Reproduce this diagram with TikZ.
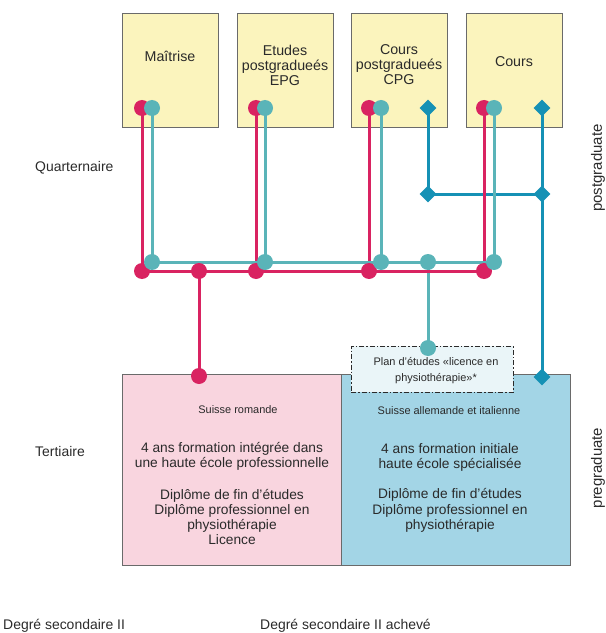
\documentclass[tikz,border=0pt]{standalone}
\usepackage{fontspec}
\setmainfont{Liberation Sans}
\usetikzlibrary{shapes.geometric}
\definecolor{yel}{HTML}{FBF4BD}
\definecolor{frame}{HTML}{6A6A6A}
\definecolor{redl}{HTML}{D92361}
\definecolor{teall}{HTML}{5AB4B8}
\definecolor{bluel}{HTML}{1591B5}
\definecolor{pinkf}{HTML}{F9D5DF}
\definecolor{bluef}{HTML}{A3D5E6}
\definecolor{dashf}{HTML}{EAF5F8}
\definecolor{txt}{HTML}{2A2A2A}
\begin{document}
\begin{tikzpicture}[x=1bp,y=-1bp,
  topbox/.style={draw=frame,line width=0.9bp,fill=yel,minimum width=96bp,minimum height=114bp,inner sep=0},
  lbl/.style={text=txt,align=center,font=\fontsize{14.3}{15}\selectfont,inner sep=0},
  big/.style={text=txt,align=center,font=\fontsize{13.8}{15.2}\selectfont,inner sep=0},
  small/.style={text=txt,align=center,font=\fontsize{11}{12}\selectfont,inner sep=0},
  side/.style={text=txt,font=\fontsize{14}{15}\selectfont,inner sep=0,anchor=west},
  rot/.style={text=txt,font=\fontsize{15}{17}\selectfont,inner sep=0,rotate=90},
  rline/.style={draw=redl,line width=3bp},
  tline/.style={draw=teall,line width=3bp},
  bline/.style={draw=bluel,line width=3bp},
  rdot/.style={circle,fill=redl,minimum size=16bp,inner sep=0},
  tdot/.style={circle,fill=teall,minimum size=16bp,inner sep=0},
  bdia/.style={diamond,fill=bluel,minimum size=17bp,inner sep=0}]
\useasboundingbox (0,0) rectangle (606,633);
% top boxes
\node[topbox] (b1) at (170,70) {};
\node[topbox] (b2) at (285,70) {};
\node[topbox] (b3) at (399,70) {};
\node[topbox] (b4) at (514,70) {};
\node[lbl] (l1) at (170,56) {Maîtrise};
\node[lbl] (l2) at (285,65) {Etudes\\postgradueés\\EPG};
\node[lbl] (l3) at (399,65) {Cours\\postgradueés\\CPG};
\node[lbl] (l4) at (514,62) {Cours};
% bottom boxes
\node[draw=frame,line width=0.9bp,fill=pinkf,minimum width=219bp,minimum height=191bp,inner sep=0] (pk) at (231.5,469.5) {};
\node[draw=frame,line width=0.9bp,fill=bluef,minimum width=229bp,minimum height=191bp,inner sep=0] (bl) at (455.5,469.5) {};
\node[small] (s1) at (238,410) {Suisse romande};
\node[big] (p1) at (232,456.5) {4 ans formation intégrée dans\\une haute école professionnelle};
\node[big] (p2) at (232,517) {Diplôme de fin d'études\\Diplôme professionnel en\\physiothérapie\\Licence};
\node[small] (s2) at (449,411) {Suisse allemande et italienne};
\node[big] (q1) at (450,457.5) {4 ans formation initiale\\haute école spécialisée};
\node[big] (q2) at (450,510.5) {Diplôme de fin d'études\\Diplôme professionnel en\\physiothérapie};
% dashed box
\node[draw=txt,line width=0.8bp,dash pattern=on 5bp off 2bp on 1.5bp off 2bp,fill=dashf,minimum width=162bp,minimum height=46bp,inner sep=0] (pl) at (432,369) {};
\node[small,font=\fontsize{11}{16}\selectfont] (plt) at (436,371) {Plan d'études «licence en\\physiothérapie»*};
% coordinates
\coordinate (r1t) at (142,108); \coordinate (r2t) at (256,108);
\coordinate (r3t) at (369,108); \coordinate (r4t) at (484,108);
\coordinate (r1b) at (142,271); \coordinate (rm) at (199,271);
\coordinate (r2b) at (256,271); \coordinate (r3b) at (369,271);
\coordinate (r4b) at (484,271); \coordinate (rend) at (199,376);
\coordinate (t1t) at (152,108); \coordinate (t2t) at (265,108);
\coordinate (t3t) at (381,108); \coordinate (t4t) at (494,108);
\coordinate (t1b) at (152,262); \coordinate (t2b) at (265,262);
\coordinate (t3b) at (381,262); \coordinate (tm) at (428,262);
\coordinate (t4b) at (494,262); \coordinate (tend) at (428,348);
\coordinate (d1) at (428,108); \coordinate (d2) at (428,194);
\coordinate (d3) at (542,108); \coordinate (d4) at (542,194);
\coordinate (d5) at (542,377);
% lines
\draw[bline] (d1) -- (d2) -- (d4);
\draw[bline] (d3) -- (d5);
\draw[rline] (r1t) -- (r1b);
\draw[rline] (r2t) -- (r2b);
\draw[rline] (r3t) -- (r3b);
\draw[rline] (r4t) -- (r4b);
\draw[tline] (t1t) -- (t1b) -- (t4b);
\draw[tline] (t2t) -- (t2b);
\draw[tline] (t3t) -- (t3b);
\draw[tline] (t4t) -- (t4b);
\draw[tline] (tm) -- (tend);
\draw[rline] (r1b) -- (r4b);
\draw[rline] (rm) -- (rend);
% dots
\foreach \c in {r1t,r2t,r3t,r4t,r1b,rm,r2b,r3b,r4b,rend} \node[rdot] at (\c) {};
\foreach \c in {t1t,t2t,t3t,t4t,t1b,t2b,t3b,tm,t4b,tend} \node[tdot] at (\c) {};
\foreach \c in {d1,d2,d3,d4,d5} \node[bdia] at (\c) {};
% side labels
\node[side] (q) at (35,168) {Quarternaire};
\node[side] (t) at (35,452) {Tertiaire};
\node[side,anchor=base west] (ds) at (3,629) {Degré secondaire II};
\node[side,anchor=base west] (dsa) at (260,629.5) {Degré secondaire II achevé};
\node[rot] (pg) at (598,168) {postgraduate};
\node[rot] (prg) at (598,468) {pregraduate};
\end{tikzpicture}
\end{document}
